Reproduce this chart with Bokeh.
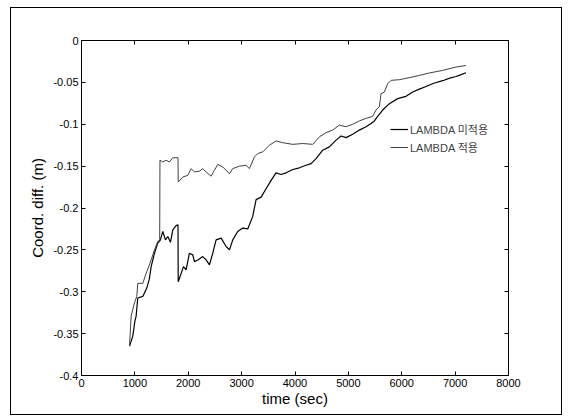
from bokeh.plotting import figure
from bokeh.models import Range1d, LinearAxis, FixedTicker, Legend, LegendItem
from bokeh.layouts import column
from bokeh.embed import file_html
from bokeh.resources import INLINE

# ---- data ----
t_no = [900, 961, 1000, 1024, 1054, 1148, 1223, 1270, 1305, 1367, 1429, 1479, 1523,
        1573, 1617, 1667, 1710, 1773, 1808, 1812, 1867, 1910, 1960, 2022, 2085, 2116,
        2179, 2272, 2335, 2397, 2459, 2522, 2616, 2709, 2772, 2834, 2927, 3021, 3115,
        3208, 3271, 3365, 3458, 3552, 3645, 3739, 3833, 3958, 4082, 4207, 4301, 4395,
        4519, 4644, 4769, 4863, 4956, 5081, 5206, 5331, 5425, 5487, 5549, 5643, 5768,
        5924, 6080, 6204, 6330, 6454, 6600, 6766, 6900, 7016, 7100, 7203]
y_no = [-0.365, -0.353, -0.335, -0.329, -0.3075, -0.3056, -0.2956, -0.285, -0.27,
        -0.254, -0.242, -0.238, -0.228, -0.238, -0.234, -0.241, -0.226, -0.221, -0.220,
        -0.288, -0.278, -0.27, -0.274, -0.254, -0.256, -0.264, -0.262, -0.258, -0.262,
        -0.268, -0.254, -0.238, -0.236, -0.246, -0.25, -0.238, -0.228, -0.224, -0.225,
        -0.21, -0.19, -0.187, -0.177, -0.167, -0.158, -0.16, -0.158, -0.154, -0.152,
        -0.149, -0.147, -0.141, -0.131, -0.127, -0.119, -0.114, -0.116, -0.112, -0.107,
        -0.103, -0.099, -0.096, -0.0905, -0.083, -0.0754, -0.0694, -0.0667, -0.0615,
        -0.058, -0.055, -0.051, -0.048, -0.045, -0.043, -0.041, -0.0385]

t_yes = [900, 930, 993, 1036, 1054, 1148, 1211, 1260, 1305, 1367, 1429, 1465, 1470,
         1523, 1585, 1648, 1710, 1808, 1812, 1898, 1992, 2054, 2116, 2210, 2272, 2335,
         2428, 2490, 2553, 2647, 2772, 2834, 2959, 3084, 3146, 3240, 3302, 3396, 3521,
         3645, 3770, 3958, 4145, 4332, 4457, 4582, 4706, 4831, 4956, 5081, 5206, 5331,
         5455, 5518, 5581, 5600, 5612, 5674, 5737, 5799, 5955, 6142, 6330, 6500, 6766,
         7016, 7203]
y_yes = [-0.365, -0.329, -0.313, -0.3056, -0.29, -0.29, -0.278, -0.27, -0.262, -0.25,
         -0.240, -0.238, -0.143, -0.145, -0.143, -0.145, -0.140, -0.140, -0.169, -0.163,
         -0.161, -0.153, -0.157, -0.156, -0.153, -0.157, -0.162, -0.155, -0.148, -0.151,
         -0.159, -0.153, -0.15, -0.149, -0.153, -0.139, -0.135, -0.133, -0.125, -0.12,
         -0.122, -0.124, -0.123, -0.124, -0.115, -0.110, -0.107, -0.101, -0.103, -0.1,
         -0.096, -0.093, -0.0905, -0.083, -0.079, -0.070, -0.0635, -0.0615, -0.0516,
         -0.0476, -0.0468, -0.0444, -0.0417, -0.039, -0.0357, -0.0317, -0.0298]

x_ticks = [0, 1000, 2000, 3000, 4000, 5000, 6000, 7000, 8000]
y_ticks = [0, -0.05, -0.1, -0.15, -0.2, -0.25, -0.3, -0.35, -0.4]
y_tick_labels = ["0", "-0.05", "-0.1", "-0.15", "-0.2", "-0.25", "-0.3", "-0.35", "-0.4"]
series_names = ["LAMBDA 미적용", "LAMBDA 적용"]
x_label = "time (sec)"
y_label = "Coord. diff. (m)"

FONT = "'Liberation Sans', 'Noto Sans CJK KR', Arial, sans-serif"

p = figure(width=550, height=406, output_backend="svg", toolbar_location=None,
           x_range=Range1d(0, 8000), y_range=Range1d(-0.4, 0),
           min_border_left=70, min_border_right=53, min_border_top=32,
           min_border_bottom=39)
p.background_fill_color = "white"
p.border_fill_color = "white"
p.outline_line_color = "black"
p.grid.visible = False

r_no = p.line(t_no, y_no, line_color="#000000", line_width=1.2)
r_yes = p.line(t_yes, y_yes, line_color="#404040", line_width=1.0)

def style_axis(ax, labels=True):
    ax.major_tick_in = 4
    ax.major_tick_out = 0
    ax.minor_tick_in = 0
    ax.minor_tick_out = 0
    ax.axis_line_color = "black"
    ax.major_tick_line_color = "black"
    ax.major_label_text_font = FONT
    ax.major_label_text_font_size = "11px" if labels else "0px"
    ax.major_label_text_color = "black" if labels else None
    ax.axis_label_text_font = FONT
    ax.axis_label_text_font_size = "15px"
    ax.axis_label_text_font_style = "normal"
    ax.axis_label_text_color = "black"

xa = p.xaxis[0]
xa.ticker = FixedTicker(ticks=x_ticks)
xa.major_label_overrides = {v: str(v) for v in x_ticks}
xa.axis_label = x_label
xa.axis_label_standoff = 0
xa.major_label_standoff = 3
style_axis(xa)

ya = p.yaxis[0]
ya.ticker = FixedTicker(ticks=y_ticks)
ya.major_label_overrides = {v: l for v, l in zip(y_ticks, y_tick_labels)}
ya.axis_label = y_label
ya.axis_label_standoff = 4
ya.major_label_standoff = 3
style_axis(ya)

top = LinearAxis(ticker=FixedTicker(ticks=x_ticks))
style_axis(top, labels=False)
p.add_layout(top, "above")
right = LinearAxis(ticker=FixedTicker(ticks=y_ticks))
style_axis(right, labels=False)
p.add_layout(right, "right")

legend = Legend(items=[LegendItem(label=series_names[0], renderers=[r_no]),
                       LegendItem(label=series_names[1], renderers=[r_yes])],
                location=(309, 220), orientation="vertical",
                label_text_font=FONT, label_text_font_size="11px",
                label_height=14, glyph_height=14, glyph_width=18, spacing=2,
                padding=0, margin=0, label_standoff=2,
                background_fill_alpha=0, border_line_color=None)
p.add_layout(legend)

layout = column(p, margin=(7, 0, 0, 10),
                styles={"border": "1.5px solid black", "background-color": "white"})

open("out.html", "w").write(file_html(layout, INLINE))
